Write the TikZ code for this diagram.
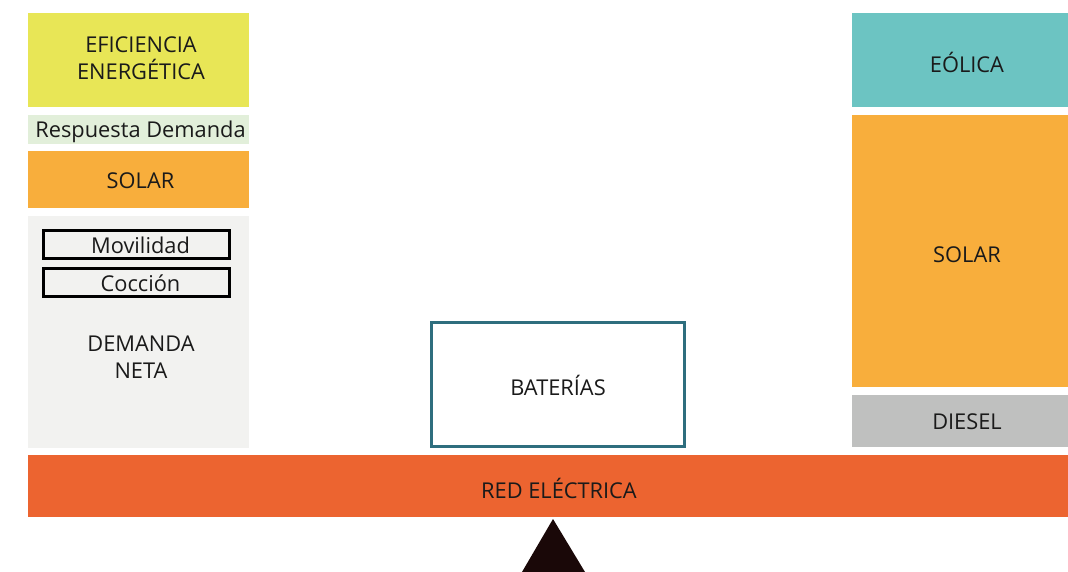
\documentclass[tikz,border=0pt]{standalone}
\usepackage{fontspec}
\setmainfont{Open Sans}
\definecolor{cyellow}{HTML}{E8E656}
\definecolor{cgreen}{HTML}{E2EFDA}
\definecolor{corange}{HTML}{F8AE3C}
\definecolor{cgray}{HTML}{F2F2F0}
\definecolor{cteal}{HTML}{6CC4C2}
\definecolor{cdiesel}{HTML}{BFC0BF}
\definecolor{cred}{HTML}{EC6430}
\definecolor{cbat}{HTML}{2E6E7E}
\definecolor{ctext}{HTML}{1A1A1A}
\definecolor{ctri}{HTML}{1A0808}
\begin{document}
\begin{tikzpicture}[x=1pt,y=-1pt,
  every node/.style={font=\fontsize{21.8}{27}\selectfont, text=ctext, inner sep=0pt, outer sep=0pt},
  blk/.style={draw=none, anchor=north west, align=center},
  subbox/.style={draw=black, line width=3pt, fill=cgray, anchor=north west, minimum width=186pt, minimum height=28pt}
]
\useasboundingbox (0,0) rectangle (1068,572);
\fill[white] (0,0) rectangle (1068,572);
% left column
\node[blk, fill=cyellow, minimum width=221pt, minimum height=94pt] (efi) at (28,13) {};
\node at (141,58.5) (efit) {\parbox{200pt}{\centering EFICIENCIA\\ENERGÉTICA}};
\node[blk, fill=cgreen, minimum width=221pt, minimum height=29pt] (resp) at (28,115) {};
\node at (140.5,131.5) (respt) {Respuesta Demanda};
\node[blk, fill=corange, minimum width=221pt, minimum height=57pt] (solarl) at (28,151) {};
\node at (140.5,180.5) (solarlt) {SOLAR};
\node[blk, fill=cgray, minimum width=221pt, minimum height=232pt] (dem) at (28,216) {};
\node[subbox] (mov) at (43.5,230.5) {};
\node at (140.5,245) (movt) {Movilidad};
\node[subbox] (coc) at (43.5,268.5) {};
\node at (140.5,283) (coct) {Cocción};
\node at (141,357) (demt) {\parbox{200pt}{\centering DEMANDA\\NETA}};
% right column
\node[blk, fill=cteal, minimum width=216pt, minimum height=94pt] (eol) at (852,13) {};
\node at (967,62) (eolt) {EÓLICA};
\node[blk, fill=corange, minimum width=216pt, minimum height=272pt] (solarr) at (852,115) {};
\node at (967,254.5) (solarrt) {SOLAR};
\node[blk, fill=cdiesel, minimum width=216pt, minimum height=52pt] (die) at (852,395) {};
\node at (967,421.5) (diet) {DIESEL};
% batteries
\node[draw=cbat, line width=2.8pt, fill=white, anchor=north west, minimum width=253.2pt, minimum height=124.2pt] (bat) at (431.4,322.4) {};
\node at (558,385.5) (batt) {BATERÍAS};
% grid
\node[blk, fill=cred, minimum width=1040pt, minimum height=62pt] (red) at (28,455) {};
\node at (559,488.5) (redt) {RED ELÉCTRICA};
% triangle
\coordinate (apex) at (553,519);
\coordinate (bl) at (522,572);
\coordinate (br) at (585,572);
\fill[ctri] (apex) -- (bl) -- (br) -- cycle;
\end{tikzpicture}
\end{document}
